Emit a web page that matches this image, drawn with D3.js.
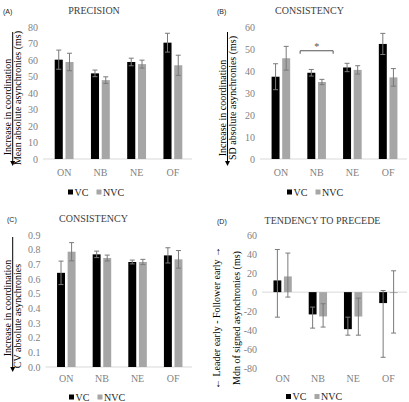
<!DOCTYPE html>
<html>
<head>
<meta charset="utf-8">
<script src="https://cdn.jsdelivr.net/npm/d3@7"></script>
<style>
  body { margin: 0; background: #fff; }
  svg { display: block; font-family: "Liberation Serif", "Times New Roman", serif; }
</style>
</head>
<body>
<svg id="chart" width="409" height="402"></svg>
<script>
// data
const categories = ["ON", "NB", "NE", "OF"];
const groups = ["VC", "NVC"];

const precisionVC = [60.2, 51.9, 58.8, 70.5];
const precisionVCErr = [5.8, 2.0, 2.3, 5.7];
const precisionNVC = [58.8, 47.8, 57.5, 56.8];
const precisionNVCErr = [5.3, 2.0, 2.4, 6.1];

const sdVC = [37.4, 39.2, 41.6, 52.3];
const sdVCErr = [5.9, 1.5, 1.9, 4.8];
const sdNVC = [45.8, 35.0, 40.5, 37.1];
const sdNVCErr = [5.4, 1.2, 1.9, 4.0];

const cvVC = [0.642, 0.768, 0.716, 0.761];
const cvVCErr = [0.08, 0.022, 0.013, 0.052];
const cvNVC = [0.786, 0.743, 0.716, 0.734];
const cvNVCErr = [0.062, 0.02, 0.018, 0.06];

const mdnVC = [12.3, -23.4, -38.9, -11.5];
const mdnVCLow = [-26.3, -37.8, -45.2, -68.4];
const mdnVCHigh = [44.8, -15.7, -26.3, 1.7];
const mdnNVC = [16.5, -25.5, -25.6, -1.0];
const mdnNVCLow = [-5.2, -36.7, -45.2, -43.0];
const mdnNVCHigh = [41.0, -12.2, -6.3, 22.4];

const ticksPrecision = [0, 10, 20, 30, 40, 50, 60, 70, 80];
const ticksSD = [0, 10, 20, 30, 40, 50, 60];
const ticksCV = [0, 0.1, 0.2, 0.3, 0.4, 0.5, 0.6, 0.7, 0.8, 0.9];
const ticksMdn = [60, 40, 20, 0, -20, -40, -60, -80];

// significance bracket in panel B
const sigCategory = "NB";
const sigValue = 49.2;

const colors = { VC: "#000000", NVC: "#a6a6a6" };
const errColor = "#7a7a7a";

const svg = d3.select("#chart");

function rows(vc, nvc, lo, hi) {
  return categories.map((c, i) => ({
    cat: c,
    vals: [
      { g: "VC", v: vc[i], lo: lo.VC[i], hi: hi.VC[i] },
      { g: "NVC", v: nvc[i], lo: lo.NVC[i], hi: hi.NVC[i] }
    ]
  }));
}

function symRows(vc, vcErr, nvc, nvcErr) {
  return rows(vc, nvc,
    { VC: vc.map((v, i) => v - vcErr[i]), NVC: nvc.map((v, i) => v - nvcErr[i]) },
    { VC: vc.map((v, i) => v + vcErr[i]), NVC: nvc.map((v, i) => v + nvcErr[i]) });
}

function drawPanel(p) {
  const g = svg.append("g");

  const x0 = d3.scaleBand().domain(categories).range([p.left, p.right])
    .paddingInner(0.48).paddingOuter(0.24);
  const x1 = d3.scaleBand().domain(groups).range([0, x0.bandwidth()])
    .paddingInner(0.25);
  const y = d3.scaleLinear().domain(p.domain).range([p.bottom, p.top]);

  // y axis labels only
  const ya = g.append("g").attr("transform", `translate(${p.left},0)`)
    .call(d3.axisLeft(y).tickValues(p.ticks).tickSize(0).tickPadding(8).tickFormat(p.fmt));
  ya.select(".domain").remove();
  ya.selectAll("text").attr("fill", "#7f7f7f").style("font-family", "Liberation Serif").style("font-size", "10px");

  // x axis labels
  const xa = g.append("g").attr("transform", `translate(0,${y(p.domain[0])})`)
    .call(d3.axisBottom(x0).tickSize(0).tickPadding(p.xPad));
  xa.select(".domain").remove();
  xa.selectAll("text").attr("fill", "#7f7f7f").style("font-family", "Liberation Serif").style("font-size", "10px");

  // zero line
  g.append("line")
    .attr("x1", p.left - 3).attr("x2", p.right + 1)
    .attr("y1", y(0)).attr("y2", y(0))
    .attr("stroke", "#d9d9d9").attr("stroke-width", 1);

  const cat = g.selectAll(".cat").data(p.data).join("g")
    .attr("transform", d => `translate(${x0(d.cat)},0)`);

  cat.selectAll("rect").data(d => d.vals).join("rect")
    .attr("x", d => x1(d.g))
    .attr("width", x1.bandwidth())
    .attr("y", d => y(Math.max(0, d.v)))
    .attr("height", d => Math.abs(y(d.v) - y(0)))
    .attr("fill", d => colors[d.g]);

  const eb = cat.selectAll(".err").data(d => d.vals).join("g")
    .attr("transform", d => `translate(${x1(d.g) + x1.bandwidth() / 2},0)`)
    .attr("stroke", errColor).attr("stroke-width", 1);
  eb.append("line").attr("y1", d => y(d.lo)).attr("y2", d => y(d.hi));
  eb.append("line").attr("x1", -2.5).attr("x2", 2.5).attr("y1", d => y(d.hi)).attr("y2", d => y(d.hi));
  eb.append("line").attr("x1", -2.5).attr("x2", 2.5).attr("y1", d => y(d.lo)).attr("y2", d => y(d.lo));

  // panel tag and title
  g.append("text").attr("x", p.tagX).attr("y", p.titleY)
    .style("font-family", "Liberation Sans").style("font-size", "7px").attr("fill", "#222")
    .text(p.tag);
  g.append("text").attr("x", p.titleX).attr("y", p.titleY).attr("text-anchor", "middle")
    .style("font-size", "10px").attr("fill", "#404040").text(p.title);

  // y titles
  p.yLabels.forEach(l => {
    g.append("text")
      .attr("transform", `translate(${l.x},${l.y}) rotate(-90)`)
      .attr("text-anchor", "middle").attr("dy", "0.35em")
      .style("font-size", "10px").attr("fill", "#000").text(l.text);
  });
  if (p.arrow) {
    const a = p.arrow;
    g.append("line").attr("x1", a.x).attr("x2", a.x).attr("y1", a.y1).attr("y2", a.y2 - 4)
      .attr("stroke", "#000").attr("stroke-width", 1);
    g.append("path")
      .attr("d", `M${a.x - 2.5},${a.y2 - 5}L${a.x + 2.5},${a.y2 - 5}L${a.x},${a.y2}Z`)
      .attr("fill", "#000");
  }

  // legend
  const lg = g.append("g").attr("transform", `translate(${p.legendX},${p.legendY})`);
  lg.append("rect").attr("x", 0).attr("y", -2.5).attr("width", 5).attr("height", 5).attr("fill", colors.VC);
  lg.append("text").attr("x", 6.5).attr("dy", "0.35em").style("font-size", "10px").attr("fill", "#262626").text("VC");
  lg.append("rect").attr("x", 28.5).attr("y", -2.5).attr("width", 5).attr("height", 5).attr("fill", colors.NVC);
  lg.append("text").attr("x", 35).attr("dy", "0.35em").style("font-size", "10px").attr("fill", "#262626").text("NVC");

  return { g, x0, x1, y };
}

drawPanel({
  data: symRows(precisionVC, precisionVCErr, precisionNVC, precisionNVCErr),
  left: 46, right: 191, top: 27, bottom: 159, domain: [0, 80], ticks: ticksPrecision,
  fmt: d3.format("d"), xPad: 9.5,
  tag: "(A)", tagX: 3, title: "PRECISION", titleX: 94, titleY: 14,
  yLabels: [
    { text: "Increase in coordination", x: 7.5, y: 107 },
    { text: "Mean absolute asynchronies (ms)", x: 17.5, y: 98 }
  ],
  arrow: { x: 12.7, y1: 32, y2: 166 },
  legendX: 68, legendY: 192
});

const pB = drawPanel({
  data: symRows(sdVC, sdVCErr, sdNVC, sdNVCErr),
  left: 263, right: 406, top: 27, bottom: 159, domain: [0, 60], ticks: ticksSD,
  fmt: d3.format("d"), xPad: 9.5,
  tag: "(B)", tagX: 217, title: "CONSISTENCY", titleX: 309.5, titleY: 14,
  yLabels: [
    { text: "Increase in coordination", x: 222.5, y: 108 },
    { text: "SD absolute asynchronies (ms)", x: 232.5, y: 98 }
  ],
  arrow: { x: 227.5, y1: 32, y2: 166 },
  legendX: 287, legendY: 192
});

// bracket with star over NB in panel B
{
  const cx = pB.x0(sigCategory) + pB.x0.bandwidth() / 2;
  const yy = pB.y(sigValue);
  pB.g.append("path")
    .attr("d", `M${cx - 16.5},${yy + 3}V${yy}H${cx + 16.5}V${yy + 3}`)
    .attr("fill", "none").attr("stroke", "#555").attr("stroke-width", 1);
  pB.g.append("text").attr("x", cx).attr("y", yy - 0.5).attr("text-anchor", "middle")
    .style("font-size", "10px").attr("fill", "#555").text("*");
}

drawPanel({
  data: symRows(cvVC, cvVCErr, cvNVC, cvNVCErr),
  left: 48.5, right: 191, top: 235, bottom: 367, domain: [0, 0.9], ticks: ticksCV,
  fmt: d3.format(".1f"), xPad: 7.5,
  tag: "(C)", tagX: 7, title: "CONSISTENCY", titleX: 93.5, titleY: 222,
  yLabels: [
    { text: "Increase in coordination", x: 7.5, y: 308 },
    { text: "CV absolute asynchronies", x: 17.5, y: 316 }
  ],
  arrow: { x: 12.7, y1: 237, y2: 372 },
  legendX: 69, legendY: 397
});

drawPanel({
  data: rows(mdnVC, mdnNVC, { VC: mdnVCLow, NVC: mdnNVCLow }, { VC: mdnVCHigh, NVC: mdnNVCHigh }),
  left: 265, right: 406, top: 235, bottom: 368.3, domain: [-80, 60], ticks: ticksMdn,
  fmt: d3.format("d"), xPad: 7,
  tag: "(D)", tagX: 217, title: "TENDENCY TO PRECEDE", titleX: 322.5, titleY: 224,
  yLabels: [
    { text: "\u2190 Leader early - Follower early \u2192", x: 216.5, y: 318 },
    { text: "Mdn of signed asynchronies (ms)", x: 236, y: 318 }
  ],
  arrow: null,
  legendX: 286, legendY: 396.5
});

// hyphen instead of unicode minus on the D ticks
svg.selectAll("text").each(function () {
  const t = d3.select(this);
  t.text(t.text().replace("\u2212", "-"));
});
</script>
</body>
</html>
